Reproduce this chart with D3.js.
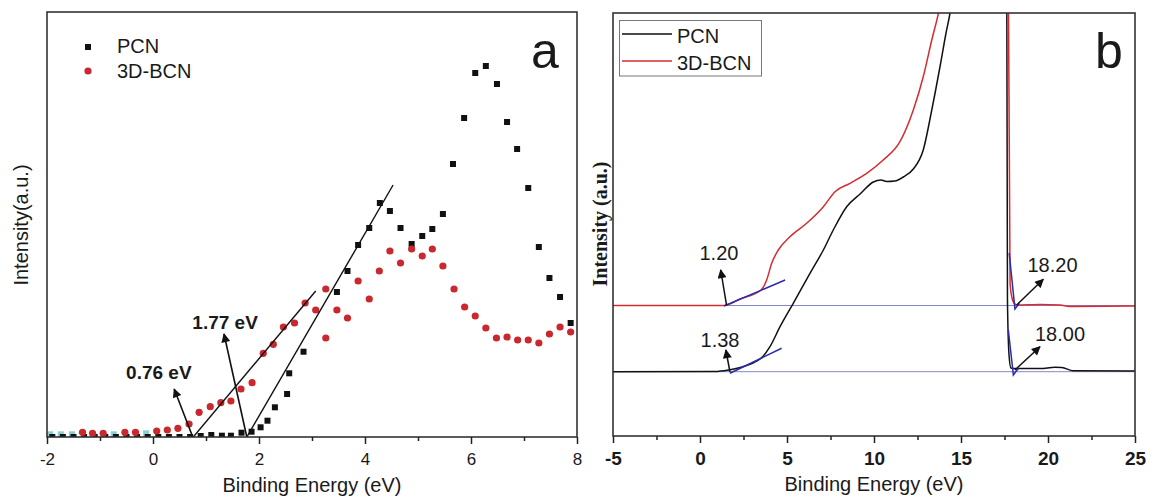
<!DOCTYPE html>
<html lang="en">
<head>
<meta charset="utf-8">
<title>PCN vs 3D-BCN binding energy</title>
<script src="https://d3js.org/d3.v7.min.js"></script>
<style>
  body { margin: 0; background: #fff; font-family: "Liberation Sans", Arial, sans-serif; }
  svg text { fill: #1a1a1a; }
</style>
</head>
<body>
<script>
// ---- panel a : valence band spectra, [binding energy (eV), intensity (a.u.)]
var pcnA = [
  [-1.9,0],[-1.7,0],[-1.5,0],[-1.3,0],[-1.1,0],[-0.9,0],[-0.7,0],[-0.5,0],[-0.3,0],[-0.1,0],
  [0.1,0],[0.3,0],[0.5,0],[0.7,0],[0.9,1],[1.1,2],[1.3,1.3],[1.47,1.3],[1.67,4.3],[1.86,5.3],
  [2.03,9.7],[2.16,16.3],[2.3,29.7],[2.53,43],[2.57,63.7],[2.84,85.3],[3.47,145],[3.67,166],
  [3.87,192],[4.08,209],[4.28,234],[4.47,226],[4.67,209],[4.88,193],[5.08,201],[5.27,208],
  [5.47,223],[5.66,273],[5.87,319],[6.08,364],[6.28,371],[6.49,353],[6.68,315],[6.87,288],
  [7.08,249],[7.28,190],[7.48,159],[7.68,140],[7.88,114]
];
var bcnA = [
  [-1.33,4.7],[-1.14,3.7],[-0.94,3.7],[-0.53,4.7],[-0.33,4.7],[0.07,6],[0.27,7],[0.47,8.7],
  [0.68,13],[0.87,24.7],[1.08,30.3],[1.28,34.3],[1.47,36],[1.66,48],[1.87,54.3],[2.08,83.7],
  [2.27,92.7],[2.46,110],[2.67,114],[2.87,134],[3.07,127],[3.26,148],[3.26,99],[3.47,127],
  [3.67,119],[3.87,156],[4.08,138],[4.27,166],[4.47,186],[4.67,174],[4.88,188],[5.08,181],
  [5.27,188],[5.47,171],[5.68,148],[5.88,130],[6.08,121],[6.28,109],[6.48,99],[6.68,100],
  [6.88,97],[7.08,97],[7.28,94],[7.48,103],[7.68,110],[7.88,105]
];
// faint (pale cyan) points of the 3D-BCN scan near the baseline
var bcnFaintA = [[-1.94,2.7],[-1.74,2.7],[-1.53,2.7],[-0.74,2.7],[-0.13,3.7]];
var fitsA = [
  [[0.76,0],[3.07,146]],
  [[1.77,0],[4.53,252]]
];
var notesA = [
  {text: "0.76 eV", from: [0.75,0], to: [0.40,48], at: [0.11,65]},
  {text: "1.77 eV", from: [1.77,0], to: [1.34,103], at: [1.36,115]}
];
var ticksA = [-2, 0, 2, 4, 6, 8];
var minorA = [-1, 1, 3, 5, 7];

// ---- panel b : UPS spectra
var pcnB = [
  [-5,64.3],[0.86,64.5],[1.63,66],[2.59,70],[3.64,80],[4.02,89.3],[4.6,109.3],[5.36,132.7],
  [6.32,162.7],[7.09,186],[7.66,206],[8.43,229.3],[9.2,242],[9.96,254],[10.4,256],[10.73,254.5],
  [11.2,255],[11.68,259],[12.26,267],[12.83,286],[13.32,326],[13.79,369],[14.14,403],[14.37,423],
  [14.6,450],[17.63,450],[17.67,136],[17.76,81],[17.87,68],[18.05,67.5],[19.54,67.5],
  [20.4,68.7],[20.8,68.5],[21.44,65.3],[25,65]
];
var bcnB = [
  [-5,130.5],[1.38,130.5],[2.3,137],[3.51,146],[3.83,156],[4.12,172.7],[4.5,186],[5.17,199.3],
  [6.13,212.7],[7.09,229.3],[7.76,244.3],[8.62,252.7],[9.58,262.7],[10.53,276],[11.49,294.3],
  [12.26,326],[12.83,359.3],[13.32,396],[13.7,422.7],[14.0,450],[17.72,450],[17.82,153],
  [17.93,138],[18.05,133],[18.22,131],[19.54,131.5],[20.69,131],[21.26,129.5],[25,130]
];
var baselinesB = [130.5, 64.3];
var tangentsB = [
  [[1.38,130],[4.89,156]],
  [[1.72,62.7],[4.69,87.7]],
  [[17.77,183],[18.1,127],[18.35,132.7]],
  [[17.72,106],[18.01,61],[18.3,67.7]]
];
var notesB = [
  {text: "1.20", from: [1.53,130.3], to: [1.19,166], at: [1.09,183]},
  {text: "1.38", from: [1.72,64], to: [1.49,86], at: [1.15,96]},
  {text: "18.20", from: [18.2,131], to: [19.73,156.7], at: [20.26,171]},
  {text: "18.00", from: [18.1,66], to: [19.54,89.3], at: [20.69,102]}
];
var ticksB = [-5, 0, 5, 10, 15, 20, 25];
var minorB = [-2.5, 2.5, 7.5, 12.5, 17.5, 22.5];
var seriesNames = ["PCN", "3D-BCN"];

var red = "#c8282e";
var plain = d => String(d);   // keep the hyphen-minus of the original

var svg = d3.select("body").append("svg")
  .attr("width", 1153).attr("height", 501);

var defs = svg.append("defs");
defs.append("marker")
  .attr("id", "head")
  .attr("viewBox", "0 0 10 10")
  .attr("refX", 9).attr("refY", 5)
  .attr("markerUnits", "userSpaceOnUse")
  .attr("markerWidth", 11).attr("markerHeight", 9)
  .attr("orient", "auto")
  .append("path").attr("d", "M0,0 L10,5 L0,10 z").attr("fill", "#111");

// ================= panel a
var xa = d3.scaleLinear().domain([-2, 8]).range([47, 577]);
var ya = d3.scaleLinear().domain([0, 425]).range([437, 12]);

defs.append("clipPath").attr("id", "clipA").append("rect")
  .attr("x", 47).attr("y", 12).attr("width", 530).attr("height", 425);

var ga = svg.append("g");
var pa = ga.append("g").attr("clip-path", "url(#clipA)");

pa.selectAll(".faint").data(bcnFaintA).enter().append("rect")
  .attr("x", d => xa(d[0]) - 3).attr("y", d => ya(d[1]) - 3)
  .attr("width", 6).attr("height", 6).attr("fill", "#8fcdd0");

pa.selectAll(".sq").data(pcnA).enter().append("rect")
  .attr("x", d => xa(d[0]) - 3).attr("y", d => ya(d[1]) - 3)
  .attr("width", 6).attr("height", 6).attr("fill", "#111");

pa.selectAll(".ci").data(bcnA).enter().append("circle")
  .attr("cx", d => xa(d[0])).attr("cy", d => ya(d[1]))
  .attr("r", 3.6).attr("fill", red);

var lineA = d3.line().x(d => xa(d[0])).y(d => ya(d[1]));
pa.selectAll(".fit").data(fitsA).enter().append("path")
  .attr("d", lineA).attr("fill", "none").attr("stroke", "#111").attr("stroke-width", 1.4);

ga.selectAll(".arr").data(notesA).enter().append("line")
  .attr("x1", d => xa(d.from[0])).attr("y1", d => ya(d.from[1]))
  .attr("x2", d => xa(d.to[0])).attr("y2", d => ya(d.to[1]))
  .attr("stroke", "#111").attr("stroke-width", 1.6).attr("marker-end", "url(#head)");
ga.selectAll(".note").data(notesA).enter().append("text")
  .attr("x", d => xa(d.at[0])).attr("y", d => ya(d.at[1]))
  .attr("text-anchor", "middle").attr("dominant-baseline", "central")
  .attr("font-size", 19).attr("font-weight", "bold").text(d => d.text);

// axes a
ga.append("rect").attr("x", 47).attr("y", 12).attr("width", 530).attr("height", 425)
  .attr("fill", "none").attr("stroke", "#333").attr("stroke-width", 1.6);
ga.append("g").attr("transform", "translate(0,437)")
  .call(d3.axisBottom(xa).tickValues(ticksA).tickSize(7).tickFormat(plain))
  .call(g => g.select(".domain").remove())
  .call(g => g.selectAll("line").attr("stroke", "#222").attr("stroke-width", 1.5))
  .call(g => g.selectAll("text").attr("font-size", 17).attr("dy", "1.05em")
    .attr("font-family", "Liberation Sans, Arial, sans-serif").attr("fill", "#222"));
ga.append("g").attr("transform", "translate(0,437)")
  .call(d3.axisBottom(xa).tickValues(minorA).tickSize(4).tickFormat(""))
  .call(g => g.select(".domain").remove())
  .call(g => g.selectAll("line").attr("stroke", "#222").attr("stroke-width", 1.5));

ga.append("text").attr("x", 312).attr("y", 492).attr("text-anchor", "middle")
  .attr("font-size", 20).text("Binding Energy (eV)");
ga.append("text").attr("transform", "translate(28,225) rotate(-90)")
  .attr("text-anchor", "middle").attr("font-size", 20).text("Intensity(a.u.)");

// legend a
ga.append("rect").attr("x", 85).attr("y", 44).attr("width", 6).attr("height", 6).attr("fill", "#111");
ga.append("circle").attr("cx", 88).attr("cy", 71).attr("r", 3.6).attr("fill", red);
ga.selectAll(".lg").data(seriesNames).enter().append("text")
  .attr("x", 117).attr("y", (d, i) => 53 + i * 25).attr("font-size", 20).text(d => d);
ga.append("text").attr("x", 531).attr("y", 68).attr("font-size", 50).text("a");

// ================= panel b
var xb = d3.scaleLinear().domain([-5, 25]).range([613, 1135]);
var yb = d3.scaleLinear().domain([0, 423]).range([436, 13]);

defs.append("clipPath").attr("id", "clipB").append("rect")
  .attr("x", 613).attr("y", 13).attr("width", 522).attr("height", 423);

var gb = svg.append("g");
var pb = gb.append("g").attr("clip-path", "url(#clipB)");
var lineB = d3.line().x(d => xb(d[0])).y(d => yb(d[1]));
var curveB = d3.line().x(d => xb(d[0])).y(d => yb(d[1])).curve(d3.curveMonotoneX);

pb.selectAll(".base").data(baselinesB).enter().append("line")
  .attr("x1", xb(-5)).attr("x2", xb(25))
  .attr("y1", d => yb(d)).attr("y2", d => yb(d))
  .attr("stroke", "#8585cf").attr("stroke-width", 1);

pb.append("path").datum(pcnB).attr("d", curveB)
  .attr("fill", "none").attr("stroke", "#111").attr("stroke-width", 1.5);
pb.append("path").datum(bcnB).attr("d", curveB)
  .attr("fill", "none").attr("stroke", "#d42c30").attr("stroke-width", 1.5);

pb.selectAll(".tan").data(tangentsB).enter().append("path")
  .attr("d", lineB).attr("fill", "none").attr("stroke", "#2b2bb0").attr("stroke-width", 1.5);

gb.selectAll(".arr").data(notesB).enter().append("line")
  .attr("x1", d => xb(d.from[0])).attr("y1", d => yb(d.from[1]))
  .attr("x2", d => xb(d.to[0])).attr("y2", d => yb(d.to[1]))
  .attr("stroke", "#111").attr("stroke-width", 1.5).attr("marker-end", "url(#head)");
gb.selectAll(".note").data(notesB).enter().append("text")
  .attr("x", d => xb(d.at[0])).attr("y", d => yb(d.at[1]))
  .attr("text-anchor", "middle").attr("dominant-baseline", "central")
  .attr("font-size", 20).text(d => d.text);

// axes b
gb.append("rect").attr("x", 613).attr("y", 13).attr("width", 522).attr("height", 423)
  .attr("fill", "none").attr("stroke", "#333").attr("stroke-width", 1.6);
gb.append("g").attr("transform", "translate(0,436)")
  .call(d3.axisBottom(xb).tickValues(ticksB).tickSize(7).tickFormat(plain))
  .call(g => g.select(".domain").remove())
  .call(g => g.selectAll("line").attr("stroke", "#222").attr("stroke-width", 1.5))
  .call(g => g.selectAll("text").attr("font-size", 19).attr("font-weight", "bold").attr("dy", "1.0em")
    .attr("font-family", "Liberation Sans, Arial, sans-serif").attr("fill", "#222"));
gb.append("g").attr("transform", "translate(0,436)")
  .call(d3.axisBottom(xb).tickValues(minorB).tickSize(4).tickFormat(""))
  .call(g => g.select(".domain").remove())
  .call(g => g.selectAll("line").attr("stroke", "#222").attr("stroke-width", 1.5));

gb.append("text").attr("x", 874).attr("y", 491).attr("text-anchor", "middle")
  .attr("font-size", 20).text("Binding Energy (eV)");
gb.append("text").attr("transform", "translate(607,224) rotate(-90)")
  .attr("text-anchor", "middle").attr("font-size", 20).attr("font-weight", "bold")
  .attr("font-family", "Liberation Serif, Times New Roman, serif").text("Intensity (a.u.)");

// legend b
gb.append("rect").attr("x", 619.5).attr("y", 20.5).attr("width", 142).attr("height", 55.5)
  .attr("fill", "#fff").attr("stroke", "#777").attr("stroke-width", 1);
gb.selectAll(".lgl").data(seriesNames).enter().append("line")
  .attr("x1", 622).attr("x2", 672)
  .attr("y1", (d, i) => 34 + i * 27).attr("y2", (d, i) => 34 + i * 27)
  .attr("stroke", (d, i) => i ? "#d42c30" : "#111").attr("stroke-width", 1.5);
gb.selectAll(".lgt").data(seriesNames).enter().append("text")
  .attr("x", 677).attr("y", (d, i) => 43 + i * 27).attr("font-size", 20).text(d => d);
gb.append("text").attr("x", 1095).attr("y", 68).attr("font-size", 50).text("b");
</script>
</body>
</html>
